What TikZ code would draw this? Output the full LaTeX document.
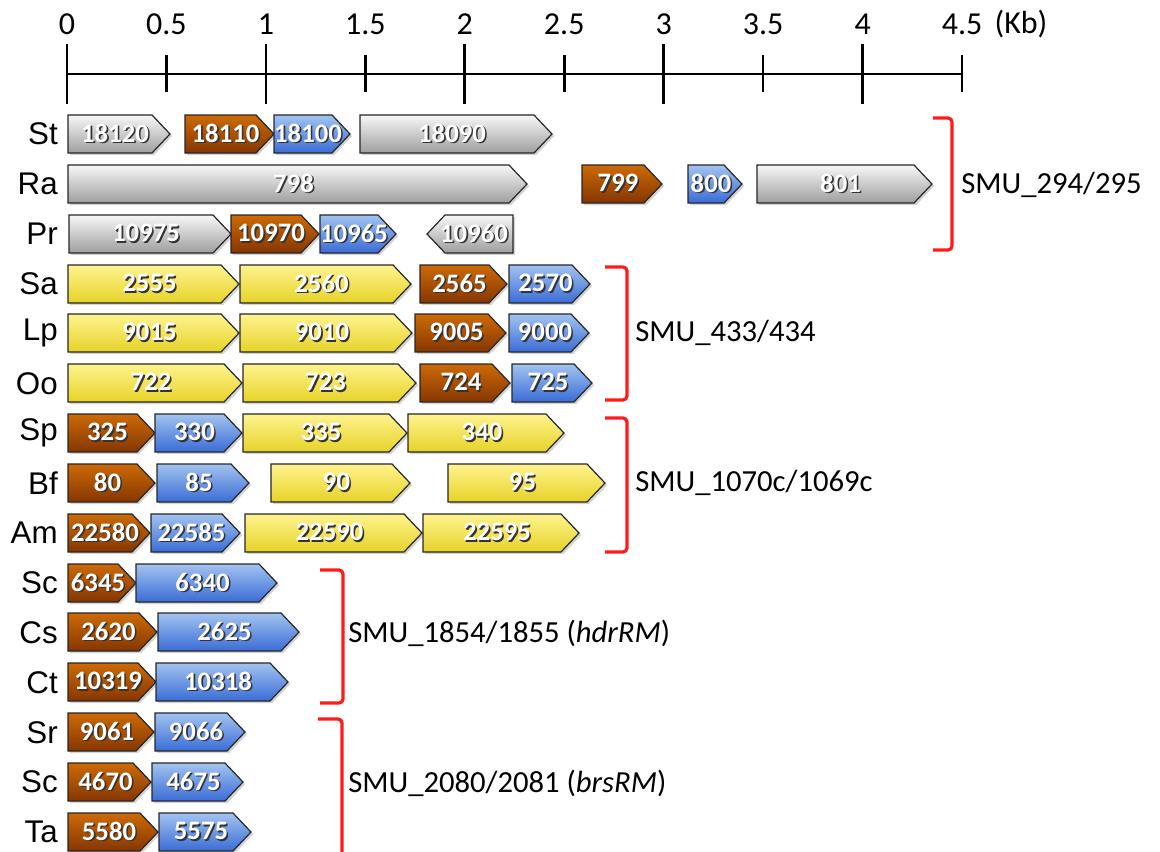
\documentclass[tikz,border=0pt]{standalone}
\usepackage{fontspec}
\setmainfont{Carlito}
\newfontfamily\arialfont{Liberation Sans}
\usetikzlibrary{shadows}

\definecolor{greytop}{HTML}{F7F7F7}
\definecolor{greybot}{HTML}{9E9E9E}
\definecolor{browntop}{HTML}{CC6A06}
\definecolor{brownbot}{HTML}{853600}
\definecolor{bluetop}{HTML}{A2C3EF}
\definecolor{bluebot}{HTML}{3A6CD6}
\definecolor{yellowtop}{HTML}{FFF38E}
\definecolor{yellowbot}{HTML}{E6D328}
\definecolor{bracketred}{HTML}{FF1A1A}

\tikzset{
  gene/.style={draw=black!85, line width=0.9pt,
    drop shadow={shadow xshift=1.6pt, shadow yshift=-1.6pt, opacity=0.35}},
  greyg/.style={top color=greytop, bottom color=greybot},
  browng/.style={top color=browntop, bottom color=brownbot},
  blueg/.style={top color=bluetop, bottom color=bluebot},
  yellowg/.style={top color=yellowtop, bottom color=yellowbot},
  genelabel/.style={text=white, inner sep=0pt,
    font=\bfseries\fontsize{20}{21}\selectfont},
  species/.style={anchor=east, inner sep=0pt,
    font=\arialfont\fontsize{23.5}{25}\selectfont},
  ticklabel/.style={inner sep=0pt, font=\fontsize{24}{26}\selectfont},
  axis/.style={line width=2pt},
  bracket/.style={draw=bracketred, line width=2.4pt, rounded corners=3pt},
  smu/.style={anchor=west, inner sep=0pt, font=\fontsize{23}{25}\selectfont}
}

% texte blanc avec ombre
\newcommand{\shtext}[1]{\rlap{\kern1.2pt\raisebox{-1.2pt}{\color{black!80}#1}}#1}

% gène vers la droite : gauche, pointe, ligne, couleur, nom
\newcommand{\gene}[5]{%
  \draw[gene,#4] (#1,#3-19) -- (#2-18,#3-19) -- (#2,#3) -- (#2-18,#3+19)
    -- (#1,#3+19) -- cycle;
  \node[genelabel] (g#5) at ({(#1+#2)/2-4},#3) {\shtext{#5}};
}
% gène vers la gauche : pointe, droite, ligne, couleur, nom
\newcommand{\geneleft}[5]{%
  \draw[gene,#4] (#1,#3) -- (#1+18,#3-19) -- (#2,#3-19) -- (#2,#3+19)
    -- (#1+18,#3+19) -- cycle;
  \node[genelabel] (g#5) at ({(#1+#2)/2+4},#3) {\shtext{#5}};
}

\begin{document}
\begin{tikzpicture}[x=0.75pt,y=-0.75pt]
  \useasboundingbox (0,0) rectangle (1160,851);

  % Axe en kb
  \draw[axis] (67,74) -- (962,74);
  \foreach \k in {0,1,2,3,4}
    \draw[axis] ({67+198.9*\k},44) -- ({67+198.9*\k},104);
  \foreach \k in {0.5,1.5,2.5,3.5,4.5}
    \draw[axis] ({67+198.9*\k},55) -- ({67+198.9*\k},92);
  \foreach \k [count=\i] in {0,0.5,1,1.5,2,2.5,3,3.5,4,4.5}
    \node[ticklabel] (t\i) at ({67+198.9*\k},24) {\k};
  \node[ticklabel] (kb) at (1021,24) {(Kb)};

  % Espèces
  \foreach \nm [count=\i from 0] in {St,Ra,Pr,Sa,Lp,Oo,Sp,Bf,Am,Sc,Cs,Ct,Sr,Sc,Ta}
    \node[species] (sp\i) at (58,{134+49.85*\i}) {\nm};

  % SMU_294/295
  \gene{68}{170}{134}{greyg}{18120}
  \gene{185}{274}{134}{browng}{18110}
  \gene{274}{350}{134}{blueg}{18100}
  \gene{360}{552}{134}{greyg}{18090}
  \gene{68}{527}{184}{greyg}{798}
  \gene{582}{662}{184}{browng}{799}
  \gene{688}{742}{184}{blueg}{800}
  \gene{757}{932}{184}{greyg}{801}
  \gene{69}{231}{234}{greyg}{10975}
  \gene{231}{319}{234}{browng}{10970}
  \gene{320}{396}{234}{blueg}{10965}
  \geneleft{427}{513}{234}{greyg}{10960}

  % SMU_433/434
  \gene{68}{239}{284}{yellowg}{2555}
  \gene{240}{411}{284}{yellowg}{2560}
  \gene{420}{507}{284}{browng}{2565}
  \gene{509}{590}{284}{blueg}{2570}
  \gene{68}{239}{333}{yellowg}{9015}
  \gene{240}{412}{333}{yellowg}{9010}
  \gene{415}{506}{333}{browng}{9005}
  \gene{509}{589}{333}{blueg}{9000}
  \gene{68}{242}{383}{yellowg}{722}
  \gene{243}{416}{383}{yellowg}{723}
  \gene{420}{510}{383}{browng}{724}
  \gene{512}{592}{383}{blueg}{725}

  % SMU_1070c/1069c
  \gene{68}{155}{433}{browng}{325}
  \gene{155}{242}{433}{blueg}{330}
  \gene{243}{407}{433}{yellowg}{335}
  \gene{408}{564}{433}{yellowg}{340}
  \gene{68}{155}{483}{browng}{80}
  \gene{157}{249}{483}{blueg}{85}
  \gene{271}{410}{483}{yellowg}{90}
  \gene{448}{605}{483}{yellowg}{95}
  \gene{68}{150}{533}{browng}{22580}
  \gene{151}{240}{533}{blueg}{22585}
  \gene{245}{422}{533}{yellowg}{22590}
  \gene{423}{579}{533}{yellowg}{22595}

  % SMU_1854/1855
  \gene{68}{136}{583}{browng}{6345}
  \gene{136}{277}{583}{blueg}{6340}
  \gene{68}{157}{632}{browng}{2620}
  \gene{158}{299}{632}{blueg}{2625}
  \gene{68}{156}{682}{browng}{10319}
  \gene{156}{288}{682}{blueg}{10318}

  % SMU_2080/2081
  \gene{68}{154}{732}{browng}{9061}
  \gene{155}{245}{732}{blueg}{9066}
  \gene{68}{151}{782}{browng}{4670}
  \gene{152}{243}{782}{blueg}{4675}
  \gene{68}{158}{832}{browng}{5580}
  \gene{159}{251}{832}{blueg}{5575}

  % Accolades
  \draw[bracket] (933,118) -- (952,118) -- (952,250) -- (933,250);
  \node[smu] (smu1) at (961,185) {SMU\_294/295};
  \draw[bracket] (605,267) -- (627,267) -- (627,400) -- (605,400);
  \node[smu] (smu2) at (635,333) {SMU\_433/434};
  \draw[bracket] (605,418) -- (627,418) -- (627,552) -- (605,552);
  \node[smu] (smu3) at (635,483) {SMU\_1070c/1069c};
  \draw[bracket] (320,570) -- (343,570) -- (343,703) -- (320,703);
  \node[smu] (smu4) at (348,633) {SMU\_1854/1855 (\textit{hdrRM})};
  \draw[bracket] (318,719) -- (342,719) -- (342,860);
  \node[smu] (smu5) at (348,783) {SMU\_2080/2081 (\textit{brsRM})};
\end{tikzpicture}
\end{document}
